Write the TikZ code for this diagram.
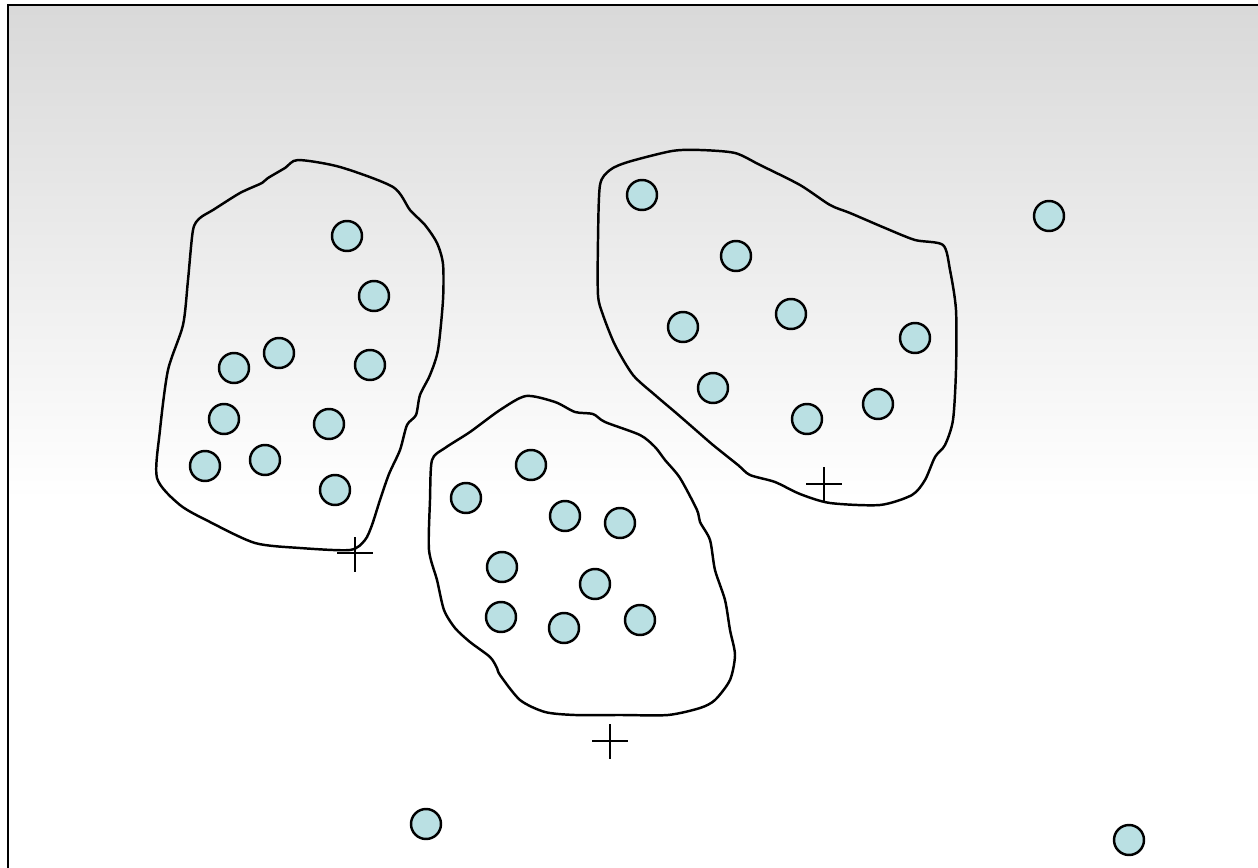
\documentclass[tikz,border=0pt]{standalone}
\usetikzlibrary{shadings}
\definecolor{dotblue}{RGB}{186,224,227}
\tikzset{
	pt/.style={circle, draw=black, fill=dotblue, line width=1.4pt, minimum size=0.6cm, inner sep=0pt},
	blob/.style={draw=black, line width=1.4pt},
	cent/.style={draw=black, line width=1.6pt}
}
\begin{document}
\begin{tikzpicture}[x=0.02cm, y=-0.02cm]
	\useasboundingbox (0,0) rectangle (1258,868);
	% background and frame
	\fill[white] (0,0) rectangle (1258,868);
	\shade[top color=black!15, bottom color=white] (8,5) rectangle (1258,500);
	\draw[line width=1.5pt] (8,868) -- (8,5) -- (1258,5);
	% cluster outlines
	\draw[blob] plot[smooth cycle, tension=0.45] coordinates {
		(298,160) (340,167) (393,187) (410,210) (425,225) (437,243) (443,264)
		(443,300) (438,350) (430,375) (420,395) (416,415) (407,425) (400,450) (389,474)
		(380,500) (372,525) (365,540) (350,550) (300,548) (255,543) (210,522) (180,505) (157,478)
		(160,430) (168,370) (183,325) (188,280) (193,230) (200,218) (213,210) (240,193)
		(262,183) (268,178) (285,168)};
	\draw[blob] plot[smooth cycle, tension=0.45] coordinates {
		(526,396) (555,402) (575,412) (593,414) (605,422) (640,435) (655,447) (665,460)
		(680,478) (697,510) (700,522) (710,540) (715,570) (725,600) (730,630) (735,655)
		(730,680) (715,700) (700,708) (668,715) (620,715) (575,715) (545,712) (520,700)
		(500,675) (497,668) (490,657) (470,642) (455,628) (444,610) (437,580) (429,550)
		(430,500) (432,460) (445,448) (470,432) (500,410)};
	\draw[blob] plot[smooth cycle, tension=0.45] coordinates {
		(672,151) (700,150) (735,153) (760,165) (800,185) (830,205) (850,213) (885,228)
		(915,240) (943,245) (950,270) (956,310) (956,370) (953,420) (945,445) (935,457)
		(925,480) (912,495) (880,505) (830,503) (800,494) (775,482) (750,475) (738,465)
		(713,445) (690,425) (675,412) (655,395) (633,375) (615,345) (603,315) (598,295)
		(598,240) (600,185) (610,170) (628,162)};
	% points of the left cluster
	\node[pt] (l1) at (347,236) {};
	\node[pt] (l2) at (374,296) {};
	\node[pt] (l3) at (279,353) {};
	\node[pt] (l4) at (234,368) {};
	\node[pt] (l5) at (370,365) {};
	\node[pt] (l6) at (224,419) {};
	\node[pt] (l7) at (329,424) {};
	\node[pt] (l8) at (205,466) {};
	\node[pt] (l9) at (265,460) {};
	\node[pt] (l10) at (335,490) {};
	% points of the middle cluster
	\node[pt] (m1) at (531,465) {};
	\node[pt] (m2) at (466,498) {};
	\node[pt] (m3) at (565,516) {};
	\node[pt] (m4) at (620,523) {};
	\node[pt] (m5) at (502,567) {};
	\node[pt] (m6) at (595,584) {};
	\node[pt] (m7) at (501,617) {};
	\node[pt] (m8) at (564,628) {};
	\node[pt] (m9) at (640,620) {};
	% points of the right cluster
	\node[pt] (r1) at (642,195) {};
	\node[pt] (r2) at (736,256) {};
	\node[pt] (r3) at (683,327) {};
	\node[pt] (r4) at (791,314) {};
	\node[pt] (r5) at (915,338) {};
	\node[pt] (r6) at (713,388) {};
	\node[pt] (r7) at (807,419) {};
	\node[pt] (r8) at (878,404) {};
	% outliers
	\node[pt] (o1) at (1049,216) {};
	\node[pt] (o2) at (426,824) {};
	\node[pt] (o3) at (1129,840) {};
	% centres
	\draw[cent] (337,553) -- (373,553) (355,537) -- (355,572);
	\draw[cent] (592,741) -- (628,741) (610,724) -- (610,759);
	\draw[cent] (806,484) -- (842,484) (824,467) -- (824,502);
\end{tikzpicture}
\end{document}
